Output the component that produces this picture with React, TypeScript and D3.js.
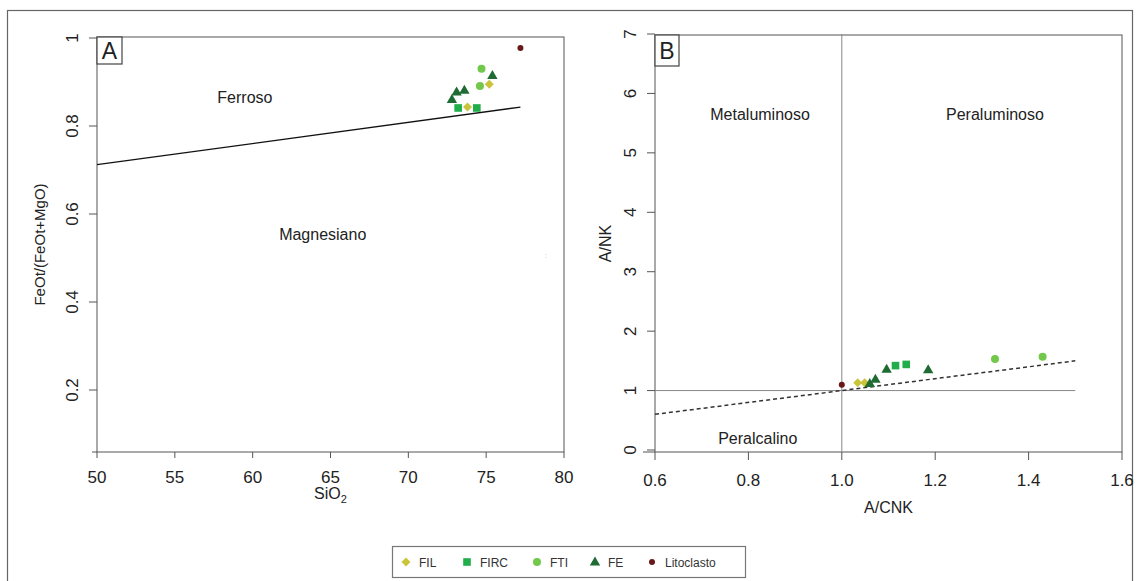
import React from "react";
import * as d3 from "d3";

// ---- Panel A data (SiO2 vs FeOt/(FeOt+MgO)) ----
const A_xTicks = [50, 55, 60, 65, 70, 75, 80];
const A_yTicks = [0.2, 0.4, 0.6, 0.8, 1];
const A_boundary: [number, number][] = [[50, 0.712], [77.2, 0.843]];
const A_FIL: [number, number][] = [[75.2, 0.895], [73.8, 0.843]];
const A_FIRC: [number, number][] = [[73.2, 0.841], [74.4, 0.841]];
const A_FTI: [number, number][] = [[74.7, 0.93], [74.6, 0.891]];
const A_FE: [number, number][] = [[75.4, 0.915], [73.1, 0.877], [73.6, 0.881], [72.8, 0.86]];
const A_LIT: [number, number][] = [[77.2, 0.977]];

// ---- Panel B data (A/CNK vs A/NK) ----
const B_xTicks = [0.6, 0.8, 1.0, 1.2, 1.4, 1.6];
const B_yTicks = [0, 1, 2, 3, 4, 5, 6, 7];
const B_dashed: [number, number][] = [[0.6, 0.6], [1.5, 1.5]];
const B_hline: [number, number][] = [[0.6, 1], [1.5, 1]];
const B_vline: [number, number][] = [[1.0, -0.03], [1.0, 7]];
const B_FIL: [number, number][] = [[1.034, 1.13], [1.049, 1.13]];
const B_FIRC: [number, number][] = [[1.115, 1.42], [1.138, 1.44]];
const B_FTI: [number, number][] = [[1.328, 1.53], [1.43, 1.57]];
const B_FE: [number, number][] = [[1.06, 1.12], [1.072, 1.19], [1.096, 1.36], [1.185, 1.35]];
const B_LIT: [number, number][] = [[1.0, 1.1]];

const legendItems = ["FIL", "FIRC", "FTI", "FE", "Litoclasto"];

const C = {
  FIL: "#c9c43a",
  FIRC: "#1fae4a",
  FTI: "#72c84a",
  FE: "#1f6b33",
  LIT: "#6a1717",
};

const FONT = "'Liberation Sans', Arial, sans-serif";

function Marker({ kind, x, y }: { kind: string; x: number; y: number }) {
  if (kind === "FIL") {
    return <path d={`M${x},${y - 4.5}L${x + 4.5},${y}L${x},${y + 4.5}L${x - 4.5},${y}Z`} fill={C.FIL} />;
  }
  if (kind === "FIRC") {
    return <rect x={x - 3.8} y={y - 3.8} width={7.6} height={7.6} fill={C.FIRC} />;
  }
  if (kind === "FTI") {
    return <circle cx={x} cy={y} r={4} fill={C.FTI} />;
  }
  if (kind === "FE") {
    return <path d={`M${x},${y - 5.5}L${x + 5.2},${y + 3.5}L${x - 5.2},${y + 3.5}Z`} fill={C.FE} />;
  }
  return <circle cx={x} cy={y} r={3} fill={C.LIT} />;
}

export default function App() {
  const W = 1139, H = 581;

  // Panel A scales
  const ax = d3.scaleLinear().domain([50, 80]).range([97, 564]);
  const ay = d3.scaleLinear().domain([1, 0.2]).range([38, 390]);
  const aTop = 37, aBottom = 452;
  // Panel B scales
  const bx = d3.scaleLinear().domain([0.6, 1.6]).range([655, 1122]);
  const by = d3.scaleLinear().domain([0, 7]).range([450, 34]);
  const bTop = 35, bBottom = 452;

  const line = (sx: d3.ScaleLinear<number, number>, sy: d3.ScaleLinear<number, number>) =>
    d3.line<[number, number]>().x((d) => sx(d[0])).y((d) => sy(d[1]));

  const pts = (arr: [number, number][], kind: string, sx: any, sy: any) =>
    arr.map((d, i) => <Marker key={kind + i} kind={kind} x={sx(d[0])} y={sy(d[1])} />);

  const axisColor = "#555";

  return (
    <svg width={W} height={H} style={{ position: "absolute", left: 0, top: 0, fontFamily: FONT }}>
      <rect x={0} y={0} width={W} height={H} fill="#fff" />
      {/* outer frame */}
      <rect x={7.5} y={10.5} width={1125} height={575} fill="none" stroke="#666" strokeWidth={1.2} />

      {/* ===== Panel A ===== */}
      <rect x={ax(50)} y={aTop} width={ax(80) - ax(50)} height={aBottom - aTop} fill="none" stroke={axisColor} strokeWidth={1} />
      {A_xTicks.map((t) => (
        <g key={"ax" + t}>
          <line x1={ax(t)} x2={ax(t)} y1={aBottom} y2={aBottom + 6} stroke={axisColor} />
          <text x={ax(t)} y={aBottom + 31} textAnchor="middle" fontSize={17} fill="#222">{t}</text>
        </g>
      ))}
      <line x1={ax(50) - 5} x2={ax(50)} y1={aBottom} y2={aBottom} stroke={axisColor} />
      {A_yTicks.map((t) => (
        <g key={"ay" + t}>
          <line x1={ax(50) - 8} x2={ax(50)} y1={ay(t)} y2={ay(t)} stroke={axisColor} />
          <text transform={`translate(${ax(50) - 19},${ay(t)}) rotate(-90)`} textAnchor="middle" fontSize={17} fill="#222">{t}</text>
        </g>
      ))}
      <text x={(ax(50) + ax(80)) / 2} y={aBottom + 47} textAnchor="middle" fontSize={16} fill="#222">
        SiO<tspan fontSize={11} dy={4}>2</tspan>
      </text>
      <text transform={`translate(45,${(aTop + aBottom) / 2}) rotate(-90)`} textAnchor="middle" fontSize={15} fill="#222">FeOt/(FeOt+MgO)</text>
      <path d={line(ax, ay)(A_boundary) || ""} fill="none" stroke="#111" strokeWidth={1.3} />
      <text x={ax(59.5)} y={ay(0.852)} textAnchor="middle" fontSize={16} fill="#222">Ferroso</text>
      <text x={ax(64.5)} y={ay(0.54)} textAnchor="middle" fontSize={16} fill="#222">Magnesiano</text>
      <text x={546} y={258} textAnchor="middle" fontSize={8} fill="#bbb">:</text>
      <rect x={ax(50)} y={aTop} width={25} height={27} fill="#fff" stroke="#444" strokeWidth={1.2} />
      <text x={ax(50) + 12.5} y={aTop + 22} textAnchor="middle" fontSize={23} fill="#222">A</text>
      {pts(A_FIL, "FIL", ax, ay)}
      {pts(A_FIRC, "FIRC", ax, ay)}
      {pts(A_FTI, "FTI", ax, ay)}
      {pts(A_FE, "FE", ax, ay)}
      {pts(A_LIT, "LIT", ax, ay)}

      {/* ===== Panel B ===== */}
      <rect x={bx(0.6)} y={bTop} width={bx(1.6) - bx(0.6)} height={bBottom - bTop} fill="none" stroke={axisColor} strokeWidth={1} />
      {B_xTicks.map((t) => (
        <g key={"bx" + t}>
          <line x1={bx(t)} x2={bx(t)} y1={bBottom} y2={bBottom + 8} stroke={axisColor} />
          <text x={bx(t)} y={bBottom + 34} textAnchor="middle" fontSize={17} fill="#222">{d3.format(".1f")(t)}</text>
        </g>
      ))}
      <line x1={bx(0.6) - 12} x2={bx(0.6)} y1={bBottom} y2={bBottom} stroke={axisColor} />
      {B_yTicks.map((t) => (
        <g key={"by" + t}>
          <line x1={bx(0.6) - 8} x2={bx(0.6)} y1={by(t)} y2={by(t)} stroke={axisColor} />
          <text transform={`translate(${bx(0.6) - 19},${by(t)}) rotate(-90)`} textAnchor="middle" fontSize={17} fill="#222">{t}</text>
        </g>
      ))}
      <text x={(bx(0.6) + bx(1.6)) / 2} y={bBottom + 61} textAnchor="middle" fontSize={16} fill="#222">A/CNK</text>
      <text transform={`translate(611,${(bTop + bBottom) / 2}) rotate(-90)`} textAnchor="middle" fontSize={16} fill="#222">A/NK</text>
      <path d={line(bx, by)(B_vline) || ""} fill="none" stroke="#888" strokeWidth={1} />
      <path d={line(bx, by)(B_hline) || ""} fill="none" stroke="#888" strokeWidth={1} />
      <path d={line(bx, by)(B_dashed) || ""} fill="none" stroke="#333" strokeWidth={1.5} strokeDasharray="4,3" />
      <text x={bx(0.825)} y={by(5.55)} textAnchor="middle" fontSize={16} fill="#222">Metaluminoso</text>
      <text x={bx(1.328)} y={by(5.55)} textAnchor="middle" fontSize={16} fill="#222">Peraluminoso</text>
      <text x={bx(0.82)} y={by(0.1)} textAnchor="middle" fontSize={16} fill="#222">Peralcalino</text>
      <rect x={bx(0.6)} y={bTop} width={24} height={31} fill="#fff" stroke="#444" strokeWidth={1.2} />
      <text x={bx(0.6) + 12} y={bTop + 24} textAnchor="middle" fontSize={23} fill="#222">B</text>
      {pts(B_FIL, "FIL", bx, by)}
      {pts(B_FIRC, "FIRC", bx, by)}
      {pts(B_FTI, "FTI", bx, by)}
      {pts(B_FE, "FE", bx, by)}
      {pts(B_LIT, "LIT", bx, by)}

      {/* ===== Legend ===== */}
      <rect x={392.5} y={546.5} width={353} height={31} fill="#fff" stroke="#777" strokeWidth={1.2} />
      {legendItems.map((name, i) => {
        const xs = [406, 467, 537, 595, 652];
        const kind = name === "Litoclasto" ? "LIT" : name;
        return (
          <g key={name}>
            <Marker kind={kind} x={xs[i]} y={562} />
            <text x={xs[i] + 13} y={566.5} fontSize={12} fill="#333">{name}</text>
          </g>
        );
      })}
    </svg>
  );
}
